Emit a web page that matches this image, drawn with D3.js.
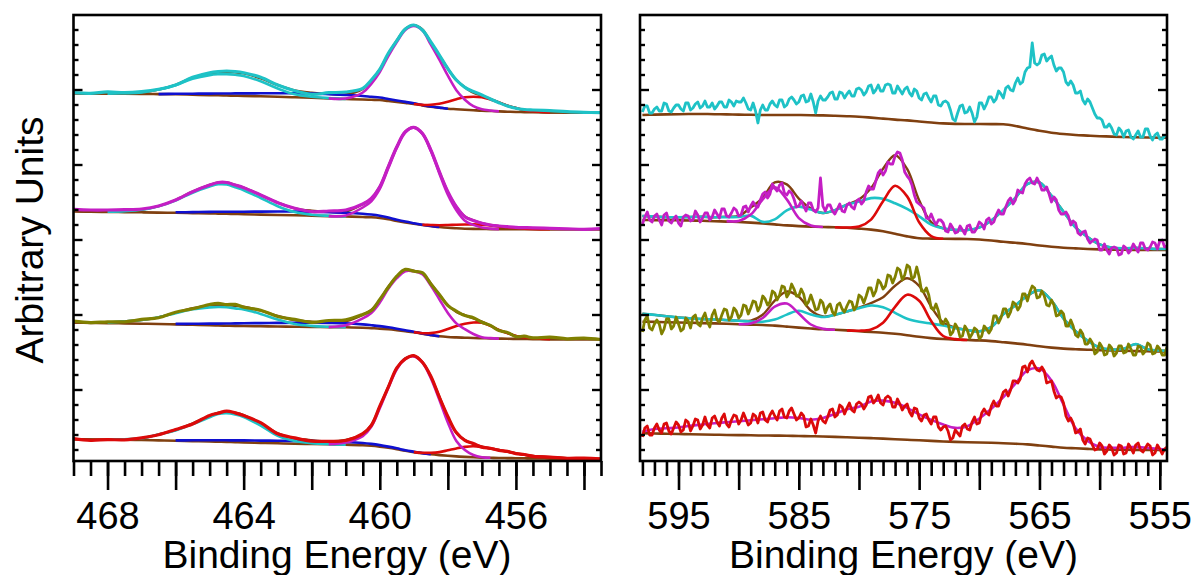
<!DOCTYPE html>
<html><head><meta charset="utf-8">
<script src="https://cdn.jsdelivr.net/npm/d3@7"></script>
<style>body{margin:0;background:#fff}svg{display:block}</style>
</head><body>
<svg id="chart" width="1192" height="575"></svg>
<script>
// ---------- axis / tick data ----------
const leftTickMinor = [469,468.5,468,467.5,467,466.5,466,465.5,465,464.5,464,463.5,463,462.5,462,461.5,461,460.5,460,459.5,459,458.5,458,457.5,457,456.5,456,455.5,455,454.5,454,453.5];
const leftTickMajor = [468,466,464,462,460,458,456,454];
const leftTickLabels = [468,464,460,456];
const rightTickMinor = [598,597,596,595,594,593,592,591,590,589,588,587,586,585,584,583,582,581,580,579,578,577,576,575,574,573,572,571,570,569,568,567,566,565,564,563,562,561,560,559,558,557,556,555];
const rightTickMajor = [595,590,585,580,575,570,565,560,555];
const rightTickLabels = [595,585,575,565,555];
const yTickMajor = [71,146,221,296,371];

// ---------- Ti 2p panel (left) ----------
const leftE = [469,468.5,468,467.5,467,466.5,466,465.5,465,464.75,464.5,464.25,464,463.5,463,462.5,462,461.5,461,460.5,460.25,460,459.75,459.5,459.25,459,458.75,458.5,458.25,458,457.75,457.5,457.25,457,456.75,456.5,456.25,456,455.75,455.5,455,454.5,454,453.5];

const L1_data = [0.3,-0.3,1.2,0.3,1.3,3.7,8,15.7,20.3,21.5,22,21.5,20.3,15.7,8,2.3,-1.3,0.3,1,4.7,13,23.7,39.7,52.3,64,68,63,51,38,24.3,13,5.7,1.5,-2,-6,-9.7,-13,-15.3,-16.5,-17,-17.7,-18.7,-19.3,-19.7];
const L1_bg = [-0.3,-0.5,-0.6,-0.8,-1,-1.1,-1.3,-1.7,-2.1,-2.3,-2.5,-2.7,-2.9,-3.3,-3.7,-4.3,-4.8,-5.4,-6,-6.5,-6.8,-7,-8,-9,-10,-11,-12.4,-13.7,-14.7,-15.7,-16.2,-16.7,-17.2,-17.7,-18,-18.4,-18.7,-19,-19.1,-19.3,-19.5,-19.6,-19.7,-19.7];
const L1_cyan = [0,0.5,1.5,4.5,9,16,20,21,21.4,21,20,15,8.2,3,1,0.3,0];
const L1_blue = [0,0.5,1,1.5,1.8,2,2.3,2.5,3,3.5,4,4.2,4.2,4,3.5,3,2.5,2,1.5,1.1,0.7,0.4,0.2,0.1,0];
const L1_magenta = [0,0.5,7,16,28,45,60,73,78,75,62,48,33,19,10,4,1.5,0.5,0];
const L1_red = [0,0.5,2,4,7,10,12.5,13.5,13.5,11.5,9,6,4,2,1,0];

const L2_data = [0.7,0,0,0.3,1,4,10,18.3,25,27.5,27.5,25,22.3,15,7.3,1.7,-1.7,-1,0,6,11.7,23.3,43.3,63.3,78.3,82.7,76.7,60,38.3,18.3,3.3,-6.7,-10.5,-13.3,-15,-16,-16.7,-17.3,-17.6,-17.8,-18.3,-18.8,-19.3,-18.7];
const L2_bg = [-1.2,-1.7,-1.9,-2.1,-2.3,-2.6,-2.8,-3.1,-3.4,-3.6,-3.8,-4,-4.2,-4.6,-5,-5.3,-5.7,-6.1,-6.5,-7,-7.3,-8,-9.3,-11,-12.5,-13.8,-15,-16,-17,-17.8,-18.3,-18.7,-18.9,-19,-19.1,-19.2,-19.3,-19.3,-19.3,-19.3,-19.3,-19.3,-19.3,-19.3];
const L2_cyan = [0.3,1,2.5,6.4,12.3,20.4,26.9,29.3,29.3,26.7,24,16.6,8.8,3.2,1,0.3,0];
const L2_blue = [0.5,1,1.5,1.8,2,2.3,2.5,3,3.5,3.8,4,4,3.8,3.3,2.8,2.3,1.8,1.3,0.9,0.6,0.3,0.1,0];
const L2_magenta = [0,1,9.5,16,29,51,73,90,96,91,75,53.5,33,18,8,4,1.5,0.5,0];
const L2_red = [0.3,1,1.8,2.8,3.6,4.2,4.5,4.3,3.6,2.8,2,1.3,0.7,0.3,0];

const L3_data = [0.8,-0.6,0.2,0.2,2.6,4.2,9.8,13.2,17.5,18.6,17.4,17.6,14.8,11.8,5.5,2.6,-0.3,1.5,2.2,7.6,11.4,22.6,34.7,45.9,52.6,50.7,49.3,38.1,27.6,16.4,10.9,6.4,4.3,-0.3,-3.4,-8.6,-10.4,-14.6,-14.2,-15.9,-15.1,-16.8,-16.1,-17.5];
const L3_bg = [-0.7,-0.9,-1.1,-1.4,-1.7,-2,-2.4,-2.8,-3.2,-3.5,-3.7,-3.9,-4,-4.3,-4.5,-4.7,-4.9,-5.1,-5.3,-5.8,-6.2,-6.6,-7.3,-8.2,-9.2,-10.3,-11.7,-13.1,-14.3,-15,-15.4,-15.7,-16,-16.2,-16.4,-16.6,-16.8,-16.9,-17,-17.1,-17.2,-17.3,-17.3,-17.3];
const L3_cyan = [0.5,2,3.7,6.7,11.2,15.5,17.8,18.5,18.5,17.5,16.6,12.4,6.9,2.7,1,0.3,0];
const L3_blue = [0.5,1,1.6,1.9,2.2,2.5,2.7,3.2,3.6,4,4.2,4.2,4,3.4,3,2.5,2,1.5,1,0.6,0.3,0.1,0];
const L3_magenta = [0,2,9.4,15.2,26,40.5,52,60,61,59.5,49.5,37,24,14,8.5,4,1,0.3,0];
const L3_red = [0,0.5,2,4.5,8,11.5,14,15.5,15.5,12.5,8.6,5.8,3,1.8,0.8,0];

const L4_data = [0.4,-1.3,-0.6,-0.8,1.1,4.2,9.5,15.1,23.6,25.8,27.9,26.1,23.4,16.3,5.2,1.1,-2.1,-2.3,-1.5,5.4,13.5,32.8,51.8,71.2,80.2,83.4,76.8,62.8,41.8,22.5,6.4,-1.4,-4.6,-8.1,-9.2,-11.4,-12.3,-14.7,-15.5,-17.3,-18,-19.3,-19.1,-19.8];
const L4_bg = [-0.3,-0.5,-0.7,-0.8,-1,-1.4,-1.8,-2.1,-2.5,-2.7,-2.9,-3.2,-3.4,-3.9,-4.3,-4.7,-5,-5.3,-5.6,-6.2,-6.8,-7.7,-8.8,-10.2,-11.8,-13.1,-14.3,-15.3,-16.1,-16.8,-17.4,-17.9,-18.3,-18.6,-18.8,-19,-19.1,-19.2,-19.3,-19.4,-19.6,-19.8,-19.9,-20];
const L4_cyan = [0,0.5,1.7,6,10.4,17,24.3,27.6,28.6,27.7,25.4,17.3,7.4,2.6,0.8,0.2,0];
const L4_blue = [0.4,0.8,1.2,1.4,1.6,1.8,2,2.3,2.6,2.8,2.9,2.8,2.6,2.2,1.9,1.6,1.2,0.9,0.6,0.4,0.2,0];
const L4_magenta = [0,2,9,18.9,38.4,59.9,80,91.9,95.7,90.9,76.1,55.4,33.3,15.4,6.9,2.3,0.4,0];
const L4_red = [0,0.5,1.5,3,5.5,8,10,11,10.5,9.3,8,6.4,4.9,3.5,2.4,1.3,0.5,0];

// ---------- Cr 2p panel (right) ----------
const rightE = [
598,597.8,597.6,597.4,597.2,597,596.8,596.6,596.4,596.2,
596,595.8,595.6,595.4,595.2,595,594.8,594.6,594.4,594.2,
594,593.8,593.6,593.4,593.2,593,592.8,592.6,592.4,592.2,
592,591.8,591.6,591.4,591.2,591,590.8,590.6,590.4,590.2,
590,589.8,589.6,589.4,589.2,589,588.8,588.6,588.4,588.2,
588,587.8,587.6,587.4,587.2,587,586.8,586.6,586.4,586.2,
586,585.8,585.6,585.4,585.2,585,584.8,584.6,584.4,584.2,
584,583.8,583.6,583.4,583.2,583,582.8,582.6,582.4,582.2,
582,581.8,581.6,581.4,581.2,581,580.8,580.6,580.4,580.2,
580,579.8,579.6,579.4,579.2,579,578.8,578.6,578.4,578.2,
578,577.8,577.6,577.4,577.2,577,576.8,576.6,576.4,576.2,
576,575.8,575.6,575.4,575.2,575,574.8,574.6,574.4,574.2,
574,573.8,573.6,573.4,573.2,573,572.8,572.6,572.4,572.2,
572,571.8,571.6,571.4,571.2,571,570.8,570.6,570.4,570.2,
570,569.8,569.6,569.4,569.2,569,568.8,568.6,568.4,568.2,
568,567.8,567.6,567.4,567.2,567,566.8,566.6,566.4,566.2,
566,565.8,565.6,565.4,565.2,565,564.8,564.6,564.4,564.2,
564,563.8,563.6,563.4,563.2,563,562.8,562.6,562.4,562.2,
562,561.8,561.6,561.4,561.2,561,560.8,560.6,560.4,560.2,
560,559.8,559.6,559.4,559.2,559,558.8,558.6,558.4,558.2,
558,557.8,557.6,557.4,557.2,557,556.8,556.6,556.4,556.2,
556,555.8,555.6,555.4,555.2,555,554.8,554.6,554.4];
const fitE = [598,597,596,595,594,593,592,591,590,589,588,587,586,585,584,583,582,581,580,579,578,577,576,575,574,573,572,571,570,569,568,567,566,565,564,563,562,561,560,559,558,557,556,555,554.4];

const R1_data = [
3,9,9,2,2,6,8,4,4,12,11,4,3,7,10,10,6,4,12,12,
5,7,11,13,7,9,14,8,8,12,6,9,13,13,8,8,15,13,9,14,
13,13,17,12,6,5,12,4,-8,5,10,5,5,11,14,10,8,15,15,8,
10,16,18,15,11,13,19,20,13,14,21,13,2,14,19,15,15,18,22,23,
16,16,23,22,17,21,24,19,19,26,27,25,20,23,29,30,22,25,30,24,
24,30,31,30,22,22,29,25,21,26,28,22,19,26,24,17,15,21,22,17,
13,19,19,10,9,13,14,12,5,-4,-6,2,9,10,2,3,8,2,-7,-2,
12,12,6,11,18,18,13,16,24,21,17,27,29,25,24,32,37,31,33,43,
47,48,72,52,50,52,60,61,54,57,59,50,44,47,47,43,33,30,34,30,
22,22,24,15,11,16,13,7,1,-3,-3,-5,-12,-12,-9,-13,-19,-20,-13,-16,
-22,-16,-15,-22,-24,-20,-16,-22,-22,-14,-14,-21,-25,-20,-18,-24,-24,-21,-20];
const R1_bg = [0,0.4,0.6,0.8,1,1,0.8,0.6,0.4,0.2,0,0,0,0,-0.2,-0.4,-0.8,-1.2,-1.7,-2.6,-3.6,-4.6,-5.4,-6.5,-7.5,-8.4,-8.9,-9,-9,-9.1,-9.3,-11,-13.5,-15.8,-17.7,-19,-20,-20.6,-21.2,-21.6,-22,-22.3,-22.5,-22.7,-22.8];

const R2_data = [
-4,3,8,0,-2,4,6,0,-5,5,7,-1,-3,1,4,-3,-6,3,5,4,
-1,0,9,5,-2,2,7,7,0,3,10,6,2,11,11,4,3,7,12,10,
4,5,13,14,8,14,18,14,13,20,26,28,22,26,36,32,29,35,37,27,
25,29,27,21,13,14,19,14,9,17,17,10,8,12,42,14,9,15,15,9,
6,11,16,9,8,15,17,13,11,19,21,16,19,28,34,31,31,39,47,50,
45,49,58,56,56,64,68,67,60,48,44,41,35,25,18,16,14,12,2,1,
6,0,-5,0,0,-3,-11,-12,-4,-8,-13,-12,-6,-10,-14,-6,-5,-12,-12,-8,
-2,-4,-9,0,2,-4,-2,5,10,6,6,13,19,22,16,20,30,28,27,36,
40,42,37,36,42,37,30,30,33,26,18,23,20,10,6,6,8,4,-5,-1,
-3,-13,-15,-12,-11,-19,-23,-21,-19,-20,-30,-30,-24,-30,-34,-28,-27,-28,-35,-34,
-26,-28,-33,-30,-24,-28,-32,-23,-23,-29,-30,-27,-22,-23,-29,-21,-20,-27,-26];
const R2_bg = [0,-0.1,-0.2,-0.3,-0.5,-0.8,-1.2,-1.6,-2,-2.6,-3.4,-4.4,-5.4,-6.1,-6.6,-7,-7.2,-7.8,-8.6,-9.6,-11.3,-13.8,-16.4,-18.3,-18.6,-18.8,-18.9,-19,-19.5,-20.5,-21.8,-22.8,-24,-25.5,-26.7,-27.7,-28.4,-29,-29.4,-29.6,-29.8,-29.9,-30,-30,-30];
const R2_cyan = [4,3.5,3,3,3.5,4,4,4.5,5,7,1.5,5,15,19.5,17,14,17,23,27,31.5,32.5,30.5,27.5,22,14,10.5,9,9,12,20,32,45,60,63,51,36,21,12,5,2,1.5,2,1.5,1,1];
const R2_magenta = [0.5,1,8,24,37,26,8,1,0];
const R2_red = [0,0.3,2,10,30,48,40,16,2.5,0];

const R3_data = [
-10,2,6,-6,-8,-2,2,-2,-12,-7,3,3,-7,-4,5,-2,-9,-7,4,1,
-6,5,7,-2,-4,4,9,0,-5,7,12,2,0,7,13,12,2,5,14,11,
4,7,17,16,8,14,21,20,11,16,26,23,17,20,31,29,22,27,36,35,
25,29,38,33,26,26,33,28,17,20,27,20,12,13,22,19,9,15,18,10,
7,17,19,13,10,16,21,20,12,16,27,25,19,26,34,34,26,31,42,39,
33,36,47,46,39,45,54,52,42,47,57,55,43,45,55,45,31,30,34,27,
14,12,18,11,-1,-2,3,-1,-13,-10,-2,-6,-15,-14,-4,-8,-16,-12,-6,-8,
-17,-14,-4,-7,-11,-7,6,6,-1,4,13,13,5,10,20,18,12,16,28,28,
21,30,36,34,24,25,31,26,17,16,22,17,6,7,11,8,-4,-4,2,-4,
-13,-15,-8,-12,-22,-22,-17,-21,-32,-30,-21,-25,-33,-32,-23,-26,-34,-31,-24,-24,
-31,-30,-22,-27,-33,-33,-24,-25,-32,-29,-21,-23,-32,-31,-24,-27,-33,-33,-25];
const R3_bg = [0.3,0.1,-0.2,-0.5,-0.8,-1.1,-1.4,-1.8,-2.2,-2.6,-3,-3.6,-4.6,-5.6,-6.5,-7.3,-7.8,-8.4,-9.2,-10,-10.7,-11.8,-13.2,-14.8,-16.1,-17,-17.6,-18,-18.4,-19.1,-20.2,-21.4,-22.7,-24.3,-25.6,-26.6,-27.2,-27.7,-28.1,-28.5,-28.8,-29.1,-29.3,-29.5,-29.7];
const R3_cyan = [8,7,6,5,4.5,4,4,3.7,3.5,3,3.3,6,12,16.8,14,12.3,15,19,23,26.5,25.5,21,16.5,15,14.5,13.5,11.5,10,9,14,28,38,49,56,47,30,18,9,2.5,1,2,7,2,1,1];
const R3_magenta = [0,1,7,19,23,14,4,0.5,0];
const R3_red = [0,0.5,2.5,10,27,40.5,36,17,3,0.5,0];

const R4_data = [
-4,5,7,-2,-2,5,9,3,0,9,10,2,-1,5,11,8,1,3,13,11,
2,7,14,13,4,8,16,8,5,15,17,11,7,15,19,9,6,13,18,17,
9,13,20,14,8,10,19,17,10,20,21,13,11,18,22,17,13,22,24,16,
15,22,25,19,13,15,20,17,6,7,14,8,0,12,17,12,10,16,23,24,
16,18,28,26,19,25,30,23,21,29,31,29,24,28,36,37,30,33,38,30,
28,35,37,35,26,26,34,29,23,27,29,21,17,25,24,15,12,18,19,13,
9,16,16,6,3,6,7,2,-7,-5,3,0,-3,7,9,4,3,11,16,9,
10,20,24,20,18,27,32,27,27,34,41,43,37,43,52,52,50,54,66,67,
61,69,72,67,63,62,66,62,50,51,52,42,35,37,36,30,17,12,15,10,
0,1,4,-7,-11,-5,-6,-12,-17,-16,-10,-13,-21,-18,-12,-15,-22,-20,-12,-13,
-21,-20,-11,-15,-20,-12,-10,-17,-19,-15,-11,-13,-22,-20,-12,-16,-21,-16,-14];
const R4_bg = [-0.3,-0.5,-0.8,-1,-1.3,-1.5,-1.7,-2,-2.1,-2.3,-2.5,-2.6,-2.8,-3,-3.2,-3.5,-3.9,-4.3,-4.7,-5.1,-5.6,-6.2,-6.8,-7.3,-7.9,-8.5,-8.9,-9.2,-9.5,-9.8,-10.2,-10.7,-11.4,-12.5,-13.6,-14.7,-15.3,-15.9,-16.4,-16.6,-16.8,-16.9,-17,-17,-17];
const R4_magenta = [1.6,4.5,5.5,6.5,8.5,10,11.5,12.8,13.8,15,16.2,17.3,18.5,18,16.5,18.5,23,28,31,36.5,38,36.5,32,26,21,17,14,16,24,34,46,60,74,77,66,43,20,8,2.5,1.8,2,3,2,1,0.5];

// stacking offsets of the spectra (arbitrary units)
const leftOffsets = [368, 251, 139, 22];
const rightOffsets = [346, 241, 139, 28];

// ---------- colours ----------
const COL = {cyan:"#1ec2c6", magenta:"#c41ec4", olive:"#808000", red:"#dc0a0a", brown:"#804010", blue:"#1010d0"};

(function(){
const svg = d3.select("#chart");
const FONT = "'Liberation Sans', Arial, Helvetica, sans-serif";
const TOP = 15, BOTTOM = 461;
const y = d3.scaleLinear().domain([0, 446]).range([BOTTOM, TOP]);
const xL = d3.scaleLinear().domain([469, 453.5]).range([73.5, 601]);
const xR = d3.scaleLinear().domain([598.2, 554.4]).range([640, 1167]);

function onGrid(grid, start, vals){
  const i0 = grid.indexOf(start);
  return grid.map((e,i) => (i >= i0 && i < i0 + vals.length) ? vals[i - i0] : null);
}

const leftSpectra = [
  {off: leftOffsets[0], color: COL.cyan, data: L1_data, bg: L1_bg, env:true,
   comps: [{c:COL.blue, s:466.5, v:L1_blue},{c:COL.cyan, s:468, v:L1_cyan},{c:COL.red, s:459, v:L1_red},{c:COL.magenta, s:461.5, v:L1_magenta}]},
  {off: leftOffsets[1], color: COL.magenta, data: L2_data, bg: L2_bg, env:true,
   comps: [{c:COL.blue, s:466, v:L2_blue},{c:COL.cyan, s:468, v:L2_cyan},{c:COL.red, s:458.75, v:L2_red},{c:COL.magenta, s:461.5, v:L2_magenta}]},
  {off: leftOffsets[2], color: COL.olive, data: L3_data, bg: L3_bg, env:true,
   comps: [{c:COL.blue, s:466, v:L3_blue},{c:COL.cyan, s:468, v:L3_cyan},{c:COL.red, s:459, v:L3_red},{c:COL.magenta, s:461.5, v:L3_magenta}]},
  {off: leftOffsets[3], color: COL.red, data: L4_data, bg: L4_bg, env:true,
   comps: [{c:COL.blue, s:466, v:L4_blue},{c:COL.cyan, s:468, v:L4_cyan},{c:COL.red, s:459, v:L4_red},{c:COL.magenta, s:461.5, v:L4_magenta}]}
];
const rightSpectra = [
  {off: rightOffsets[0], color: COL.cyan, data: R1_data, bg: R1_bg, comps: [], env:false},
  {off: rightOffsets[1], color: COL.magenta, data: R2_data, bg: R2_bg, env:true,
   comps: [{c:COL.cyan, s:598, v:R2_cyan},{c:COL.magenta, s:591, v:R2_magenta},{c:COL.red, s:582, v:R2_red}]},
  {off: rightOffsets[2], color: COL.olive, data: R3_data, bg: R3_bg, env:true,
   comps: [{c:COL.cyan, s:598, v:R3_cyan},{c:COL.magenta, s:590, v:R3_magenta},{c:COL.red, s:581, v:R3_red}]},
  {off: rightOffsets[3], color: COL.red, data: R4_data, bg: R4_bg, env:false,
   comps: [{c:COL.magenta, s:598, v:R4_magenta}]}
];

const defs = svg.append("defs");
function panel(id, x, dataGrid, fitGrid, spectra, smoothData, dataWidth){
  const [x0, x1] = x.range();
  defs.append("clipPath").attr("id", id).append("rect")
    .attr("x", x0).attr("y", TOP).attr("width", x1 - x0).attr("height", BOTTOM - TOP);
  const g = svg.append("g").attr("clip-path", `url(#${id})`);
  const smooth = d3.curveCatmullRom.alpha(0.5);
  spectra.forEach(sp => {
    const mk = (curve) => d3.line().defined(d => d.v != null)
      .x(d => x(d.e)).y(d => y(sp.off + d.v)).curve(curve);
    const bgPts = fitGrid.map((e,i) => ({e, v: sp.bg[i]}));
    g.append("path").attr("d", mk(smooth)(bgPts))
      .attr("fill","none").attr("stroke", COL.brown).attr("stroke-width", 2.6);
    const compArrs = sp.comps.map(c => ({c: c.c, arr: onGrid(fitGrid, c.s, c.v)}));
    if (sp.env) {
      const envPts = fitGrid.map((e,i) => ({e, v: sp.bg[i] + d3.sum(compArrs, c => c.arr[i] || 0)}));
      g.append("path").attr("d", mk(smooth)(envPts))
        .attr("fill","none").attr("stroke", COL.brown).attr("stroke-width", 2.4);
    }
    compArrs.forEach(c => {
      const pts = fitGrid.map((e,i) => ({e, v: c.arr[i] == null ? null : sp.bg[i] + c.arr[i]}));
      g.append("path").attr("d", mk(smooth)(pts))
        .attr("fill","none").attr("stroke", c.c).attr("stroke-width", 2.6)
        .attr("stroke-linejoin","round");
    });
    const n = Math.min(dataGrid.length, sp.data.length);
    const dPts = dataGrid.slice(0, n).map((e,i) => ({e, v: sp.data[i]}));
    g.append("path").attr("d", mk(smoothData ? smooth : d3.curveLinear)(dPts))
      .attr("fill","none").attr("stroke", sp.color).attr("stroke-width", dataWidth)
      .attr("stroke-linejoin","round");
  });

  const yMinor = d3.range(11, 440, 15);
  [[x0, 1],[x1, -1]].forEach(([xx, dir]) => {
    svg.append("g").selectAll("line").data(yMinor).join("line")
      .attr("x1", xx).attr("x2", d => xx + dir * (yTickMajor.includes(d) ? 9 : 5))
      .attr("y1", d => y(d)).attr("y2", d => y(d))
      .attr("stroke","#000").attr("stroke-width", 2.4);
  });
  svg.append("rect").attr("x", x0).attr("y", TOP).attr("width", x1 - x0).attr("height", BOTTOM - TOP)
    .attr("fill","none").attr("stroke","#000").attr("stroke-width", 2.6);
}

panel("clipL", xL, leftE, leftE, leftSpectra, true, 3.2);
panel("clipR", xR, rightE, fitE, rightSpectra, false, 2.8);

function xAxis(x, minor, major, labels){
  const gMin = svg.append("g").attr("transform", `translate(0,${BOTTOM})`)
    .call(d3.axisBottom(x).tickValues(minor).tickSize(15).tickFormat(""));
  const gMaj = svg.append("g").attr("transform", `translate(0,${BOTTOM})`)
    .call(d3.axisBottom(x).tickValues(major).tickSize(29).tickPadding(12)
      .tickFormat(d => labels.includes(d) ? d : ""));
  [gMin, gMaj].forEach(g => {
    g.select(".domain").remove();
    g.selectAll(".tick line").attr("stroke","#000").attr("stroke-width", 2.6);
    g.selectAll(".tick text").attr("font-family", FONT).attr("font-size", 38).attr("fill","#000");
  });
}
xAxis(xL, leftTickMinor, leftTickMajor, leftTickLabels);
xAxis(xR, rightTickMinor, rightTickMajor, rightTickLabels);

svg.append("text").attr("x", 337).attr("y", 568).attr("text-anchor","middle")
  .attr("font-family", FONT).attr("font-size", 39).text("Binding Energy (eV)");
svg.append("text").attr("x", 903.5).attr("y", 568).attr("text-anchor","middle")
  .attr("font-family", FONT).attr("font-size", 39).text("Binding Energy (eV)");
svg.append("text").attr("transform","translate(43,240) rotate(-90)").attr("text-anchor","middle")
  .attr("font-family", FONT).attr("font-size", 39).text("Arbitrary Units");
})();
</script>
</body></html>
